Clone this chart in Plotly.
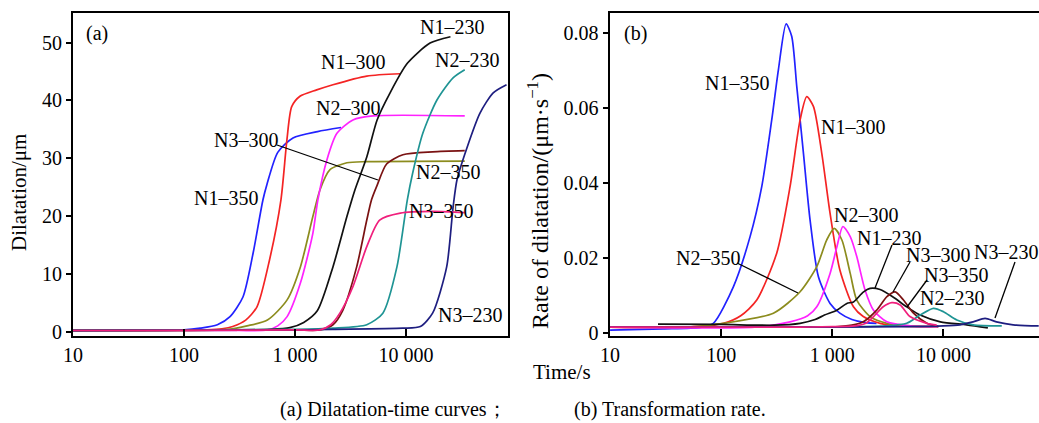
import plotly.graph_objects as go

W, H = 1039, 423

# ---------------- (a) Dilatation-time curves (time in s, dilatation in um) ----------------
t_n1_350 = [10, 30, 100, 140, 200, 260, 340, 420, 515, 560, 700, 960, 1600, 2600]
d_n1_350 = [0.2, 0.2, 0.3, 0.6, 1.2, 2.6, 6.0, 13.6, 22.8, 25.5, 31.0, 33.5, 34.6, 35.3]

t_n1_300 = [10, 100, 160, 220, 275, 360, 455, 590, 748, 847, 935, 1110, 1570, 2200, 4440, 8900]
d_n1_300 = [0.2, 0.2, 0.3, 0.5, 0.9, 2.0, 4.3, 12.4, 22.8, 33.2, 38.9, 40.7, 41.8, 42.7, 44.2, 44.6]

t_n3_300 = [10, 100, 250, 370, 565, 850, 1120, 1450, 1680, 2070, 2940, 4440, 33900]
d_n3_300 = [0.2, 0.2, 0.4, 1.0, 2.0, 5.5, 11.2, 19.9, 24.5, 28.0, 29.2, 29.4, 29.5]

t_n2_300 = [10, 300, 565, 700, 850, 1120, 1450, 1610, 1940, 2390, 3330, 5050, 33900]
d_n2_300 = [0.2, 0.2, 0.3, 1.0, 2.6, 8.4, 17.0, 22.8, 29.7, 34.3, 36.6, 37.3, 37.3]

t_n1_230 = [10, 300, 600, 900, 1200, 1590, 2200, 2940, 3470, 4440, 5500, 7200, 10300, 16500, 25200]
d_n1_230 = [0.2, 0.3, 0.4, 0.7, 1.6, 3.6, 11.2, 19.9, 24.5, 30.2, 36.6, 41.3, 46.4, 49.9, 51.0]

t_n2_350 = [10, 1000, 1680, 2200, 2700, 3600, 4440, 4900, 5500, 6700, 9400, 17400, 33900]
d_n2_350 = [0.2, 0.3, 0.3, 1.2, 3.7, 11.2, 19.3, 22.8, 25.3, 29.0, 30.6, 31.1, 31.3]

t_n3_350 = [10, 1000, 1680, 2100, 2540, 3330, 4440, 5800, 8900, 17400, 33900]
d_n3_350 = [0.2, 0.3, 0.3, 1.2, 3.2, 7.8, 14.7, 19.3, 20.5, 20.8, 20.6]

t_n2_230 = [10, 1000, 2200, 4440, 6200, 8300, 10300, 11500, 14200, 19100, 26600, 33900]
d_n2_230 = [0.2, 0.4, 0.6, 1.2, 3.2, 11.2, 22.8, 27.4, 34.3, 40.1, 43.9, 45.3]

t_n3_230 = [10, 1000, 2200, 9400, 13500, 17400, 23300, 26600, 28900, 35200, 46500, 61200, 80700]
d_n3_230 = [0.2, 0.3, 0.4, 0.6, 0.9, 3.2, 11.2, 21.5, 26.3, 31.6, 37.8, 41.3, 42.7]

# ---------------- (b) Transformation rate (time in s, rate in um/s) ----------------
rt_blue = [10, 30, 65, 85, 129, 182, 232, 285, 327, 384, 431, 479, 550, 631, 750, 955, 1170, 1500, 2000, 2500]
rr_blue = [0.0007, 0.0010, 0.0014, 0.0025, 0.0123, 0.0256, 0.039, 0.0567, 0.070, 0.0823, 0.079, 0.0656,
           0.0478, 0.030, 0.0149, 0.0078, 0.0052, 0.0035, 0.0027, 0.0025]

rt_red = [10, 50, 105, 150, 209, 316, 417, 513, 589, 676, 804, 955, 1170, 1550, 1900, 2690, 4000, 8700]
rr_red = [0.0015, 0.0015, 0.0025, 0.0045, 0.0087, 0.0212, 0.039, 0.0567, 0.0629, 0.0603, 0.0478, 0.0318,
          0.0167, 0.0069, 0.0043, 0.0025, 0.0018, 0.0016]

rt_olive = [10, 50, 105, 295, 513, 725, 890, 1040, 1220, 1450, 1660, 2190, 3100, 5000, 9000]
rr_olive = [0.0015, 0.0015, 0.0025, 0.0052, 0.0109, 0.0176, 0.0247, 0.0278, 0.0247, 0.0158, 0.0087,
            0.0043, 0.0025, 0.0018, 0.0016]

rt_magenta = [10, 200, 417, 600, 725, 955, 1100, 1245, 1450, 1660, 1970, 2350, 3100, 5000, 9000]
rr_magenta = [0.0015, 0.0015, 0.0029, 0.0045, 0.0069, 0.0158, 0.0229, 0.0283, 0.0256, 0.0203, 0.0114,
              0.006, 0.0029, 0.0018, 0.0016]

rt_black = [27, 100, 300, 513, 700, 850, 1100, 1350, 1550, 1900, 2190, 2690, 3520, 4670, 6170, 9380, 16200, 25100]
rr_black = [0.0023, 0.0022, 0.0020, 0.0025, 0.0035, 0.0047, 0.006, 0.0078, 0.0082, 0.0108, 0.0118, 0.0115,
            0.0095, 0.0069, 0.0047, 0.0029, 0.0021, 0.0013]

rt_brown = [10, 500, 1000, 1500, 1900, 2510, 3100, 3680, 4370, 5380, 7100, 9000]
rr_brown = [0.0015, 0.0015, 0.0015, 0.0020, 0.0029, 0.006, 0.0096, 0.0109, 0.0087, 0.0052, 0.0025, 0.0016]

rt_pink = [10, 500, 1000, 1600, 2000, 2350, 2870, 3430, 4080, 5000, 7100, 8700]
rr_pink = [0.0015, 0.0015, 0.0016, 0.0018, 0.0025, 0.0043, 0.0069, 0.008, 0.0074, 0.0043, 0.0025, 0.002]

rt_teal = [10, 1000, 3000, 4670, 6170, 8130, 10000, 13200, 18500, 33500]
rr_teal = [0.0015, 0.0015, 0.0018, 0.0025, 0.0047, 0.0065, 0.0056, 0.0034, 0.0021, 0.0018]

rt_navy = [10, 1000, 5000, 10000, 14100, 18500, 23700, 30000, 42400, 72000]
rr_navy = [0.0015, 0.0015, 0.0016, 0.0018, 0.0021, 0.0029, 0.0038, 0.0029, 0.0021, 0.0018]

x_tickvals = [10, 100, 1000, 10000]
x_ticktext = ["10", "100", "1 000", "10 000"]
ya_ticks = [0, 10, 20, 30, 40, 50]
yb_ticks = [0, 0.02, 0.04, 0.06, 0.08]
yb_ticktext = ["0", "0.02", "0.04", "0.06", "0.08"]

C = dict(blue="#2222ff", red="#f42424", olive="#8c8c1e", magenta="#ff22ff", black="#111111",
         brown="#7a1212", pink="#f01f7c", teal="#1f9494", navy="#1e1e80")

SERIF = "Liberation Serif"

fig = go.Figure()

left = [(t_n1_350, d_n1_350, "blue"), (t_n1_300, d_n1_300, "red"), (t_n3_300, d_n3_300, "olive"),
        (t_n2_300, d_n2_300, "magenta"), (t_n1_230, d_n1_230, "black"), (t_n2_350, d_n2_350, "brown"),
        (t_n2_230, d_n2_230, "teal"), (t_n3_230, d_n3_230, "navy"), (t_n3_350, d_n3_350, "pink")]
for tx, yy, c in left:
    fig.add_trace(go.Scatter(x=tx, y=yy, mode="lines", xaxis="x", yaxis="y",
                             line=dict(color=C[c], width=1.7, shape="spline", smoothing=0.7),
                             showlegend=False, hoverinfo="skip"))

right = [(rt_blue, rr_blue, "blue"), (rt_red, rr_red, "red"), (rt_olive, rr_olive, "olive"),
         (rt_magenta, rr_magenta, "magenta"), (rt_black, rr_black, "black"), (rt_brown, rr_brown, "brown"),
         (rt_teal, rr_teal, "teal"), (rt_navy, rr_navy, "navy"), (rt_pink, rr_pink, "pink")]
for tx, yy, c in right:
    fig.add_trace(go.Scatter(x=tx, y=yy, mode="lines", xaxis="x2", yaxis="y2",
                             line=dict(color=C[c], width=1.7, shape="spline", smoothing=0.7),
                             showlegend=False, hoverinfo="skip"))

def px(x):
    return x / W

def py(y):
    return 1 - y / H

y_dom = [py(336), py(13)]
axis_common = dict(showgrid=False, zeroline=False, showline=True, linecolor="black", linewidth=2,
                   automargin=False, tickcolor="black", tickwidth=2,
                   tickfont=dict(family=SERIF, size=20, color="black"))

fig.update_layout(
    width=W, height=H, margin=dict(l=0, r=0, t=0, b=0, autoexpand=False),
    paper_bgcolor="white", plot_bgcolor="white",
    font=dict(family=SERIF, color="black"),
    xaxis=dict(domain=[px(73), px(508)], type="log", range=[1, 4.92], anchor="y", mirror=True,
               ticks="inside", ticklen=7, tickvals=x_tickvals, ticktext=x_ticktext, **axis_common),
    yaxis=dict(domain=y_dom, range=[-0.75, 55.1], anchor="x", mirror=True,
               ticks="outside", ticklen=5, tickvals=ya_ticks, **axis_common),
    xaxis2=dict(domain=[px(609.5), 1.0], type="log", range=[0.995, 4.86], anchor="y2", mirror=True,
                ticks="inside", ticklen=7, tickvals=x_tickvals, ticktext=x_ticktext, **axis_common),
    yaxis2=dict(domain=y_dom, range=[-0.00088, 0.0852], anchor="x2", mirror=False,
                ticks="outside", ticklen=5, tickvals=yb_ticks, ticktext=yb_ticktext, **axis_common),
)

labels = [
    ("(a)", 97, 33), ("N1–230", 452, 27), ("N1–300", 353, 62), ("N2–230", 467, 60), ("N2–300", 348, 108),
    ("N3–300", 246, 140), ("N2–350", 448, 172), ("N1–350", 226, 198), ("N3–350", 441, 211),
    ("N3–230", 470, 315),
    ("(b)", 635, 33), ("N1–350", 737, 83), ("N1–300", 853, 127), ("N2–300", 866, 215), ("N1–230", 889, 238),
    ("N3–300", 938, 255), ("N3–350", 956, 275), ("N2–230", 952, 298), ("N3–230", 1006, 252),
    ("N2–350", 708, 258),
]
for txt, x, y in labels:
    fig.add_annotation(text=txt, x=px(x), y=py(y), xref="paper", yref="paper", showarrow=False,
                       xanchor="center", yanchor="middle", font=dict(family=SERIF, size=20, color="black"))

leaders = [((277, 145), (378, 180)), ((737, 263), (798, 293)), ((892, 245), (875, 288)),
           ((910, 262), (893, 292)), ((927, 280), (907, 307)), ((1015, 262), (995, 318))]
for (x0, y0), (x1, y1) in leaders:
    fig.add_shape(type="line", xref="paper", yref="paper", x0=px(x0), y0=py(y0), x1=px(x1), y1=py(y1),
                  line=dict(color="black", width=1.3))

# axis titles and caption
fig.add_annotation(text="Dilatation/μm", x=px(19), y=py(193), xref="paper", yref="paper", showarrow=False,
                   textangle=-90, xanchor="center", yanchor="middle", font=dict(family=SERIF, size=21))
fig.add_annotation(text="Rate of dilatation/(μm·s<sup>−1</sup>)", x=px(538), y=py(201), xref="paper",
                   yref="paper", showarrow=False, textangle=-90, xanchor="center", yanchor="middle",
                   font=dict(family=SERIF, size=24))
fig.add_annotation(text="Time/s", x=px(562), y=py(372), xref="paper", yref="paper", showarrow=False,
                   xanchor="center", yanchor="middle", font=dict(family=SERIF, size=21))
fig.add_annotation(text="(a) Dilatation-time curves；", x=px(393), y=py(409), xref="paper", yref="paper",
                   showarrow=False, xanchor="center", yanchor="middle", font=dict(family=SERIF, size=20))
fig.add_annotation(text="(b) Transformation rate.", x=px(670), y=py(409), xref="paper", yref="paper",
                   showarrow=False, xanchor="center", yanchor="middle", font=dict(family=SERIF, size=20))

fig.write_html(
    "out.html",
    config={"displayModeBar": False},
    post_script="document.body.style.margin='0';document.body.style.padding='0';"
                "document.documentElement.style.overflow='hidden';",
)
